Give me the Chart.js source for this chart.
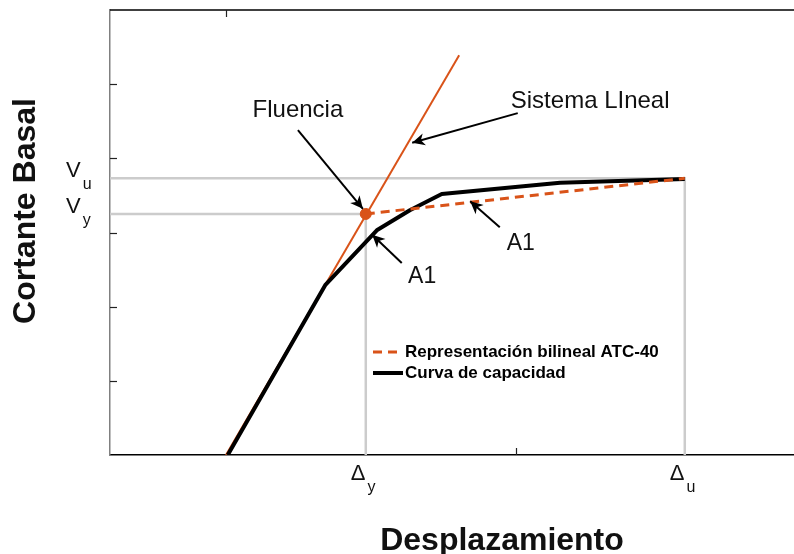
<!DOCTYPE html>
<html>
<head>
<meta charset="utf-8">
<script src="https://cdn.jsdelivr.net/npm/chart.js@4/dist/chart.umd.min.js"></script>
<style>
  html, body { margin: 0; padding: 0; background: #fff; overflow: hidden; }
  #wrap { width: 830px; height: 554px; }
</style>
</head>
<body>
<div id="wrap"><canvas id="pushover" width="830" height="554"></canvas></div>
<script>
// capacity curve (pushover)
const capX = [2.03, 3.71, 4.60, 5.17, 5.72, 7.76, 9.91];
const capY = [0, 2.29, 3.03, 3.30, 3.52, 3.67, 3.72];

// elastic (linear) system
const linX = [2.0, 6.02];
const linY = [0, 5.39];

// yield and ultimate points
const dispYield = 4.41, shearYield = 3.25;
const dispUlt = 9.91, shearUlt = 3.73;

// bilinear ATC-40 idealisation
const biX = [dispYield, dispUlt];
const biY = [shearYield, shearUlt];

// tick marks
const yTicks = [1, 2, 3, 4, 5];
const topTicks = [2];
const bottomTicks = [7];

const xTickLabels = [{ v: dispYield, base: 'Δ', sub: 'y' }, { v: dispUlt, base: 'Δ', sub: 'u' }];
const yTickLabels = [{ v: shearUlt, base: 'V', sub: 'u' }, { v: shearYield, base: 'V', sub: 'y' }];

const legendOrder = ['Representación bilineal ATC-40', 'Curva de capacidad'];

// callouts: text position + arrow tail/tip, all in data units
const callouts = [
  { text: 'Fluencia', tx: 3.24, ty: 4.56, align: 'center', size: 24, from: [3.24, 4.38], to: [4.36, 3.32] },
  { text: 'Sistema LIneal', tx: 6.91, ty: 4.68, align: 'left', size: 24, from: [7.03, 4.61], to: [5.21, 4.21] },
  { text: 'A1', tx: 5.14, ty: 2.32, align: 'left', size: 23, from: [5.03, 2.59], to: [4.52, 2.97] },
  { text: 'A1', tx: 6.84, ty: 2.76, align: 'left', size: 23, from: [6.72, 3.07], to: [6.21, 3.42] }
];

const orange = '#D95319';
const guide = '#cccccc';
const FONT = '"Liberation Sans", Arial, sans-serif';

const pts = (xs, ys) => xs.map((x, i) => ({ x, y: ys[i] }));

function arrowHead(ctx, x0, y0, x1, y1) {
  const a = Math.atan2(y1 - y0, x1 - x0);
  const len = 14, spread = 0.45, notch = 9;
  ctx.beginPath();
  ctx.moveTo(x1, y1);
  ctx.lineTo(x1 - len * Math.cos(a - spread), y1 - len * Math.sin(a - spread));
  ctx.lineTo(x1 - notch * Math.cos(a), y1 - notch * Math.sin(a));
  ctx.lineTo(x1 - len * Math.cos(a + spread), y1 - len * Math.sin(a + spread));
  ctx.closePath();
  ctx.fill();
}

// big symbol with a lowered subscript, e.g. Δ_y
function subLabel(ctx, left, y, base, sub) {
  ctx.textAlign = 'left';
  ctx.font = '22px ' + FONT;
  const bw = ctx.measureText(base).width;
  ctx.fillText(base, left, y);
  ctx.font = '16px ' + FONT;
  ctx.fillText(sub, left + bw + 2, y + 12);
}

const decorations = {
  id: 'decorations',
  afterDraw(chart) {
    const { ctx, chartArea: ca, scales: { x, y } } = chart;
    ctx.save();

    // top frame line
    ctx.strokeStyle = '#000';
    ctx.lineWidth = 1.5;
    ctx.beginPath();
    ctx.moveTo(ca.left, ca.top);
    ctx.lineTo(ca.right, ca.top);
    ctx.stroke();

    // inward tick marks
    ctx.lineWidth = 1.2;
    ctx.strokeStyle = '#222';
    yTicks.forEach(v => {
      const py = Math.round(y.getPixelForValue(v)) + 0.5;
      ctx.beginPath(); ctx.moveTo(ca.left, py); ctx.lineTo(ca.left + 7, py); ctx.stroke();
    });
    topTicks.forEach(v => {
      const px = Math.round(x.getPixelForValue(v)) + 0.5;
      ctx.beginPath(); ctx.moveTo(px, ca.top); ctx.lineTo(px, ca.top + 7); ctx.stroke();
    });
    bottomTicks.forEach(v => {
      const px = Math.round(x.getPixelForValue(v)) + 0.5;
      ctx.beginPath(); ctx.moveTo(px, ca.bottom); ctx.lineTo(px, ca.bottom - 7); ctx.stroke();
    });

    // symbolic tick labels
    ctx.fillStyle = '#111';
    ctx.textBaseline = 'alphabetic';
    xTickLabels.forEach(t => subLabel(ctx, x.getPixelForValue(t.v) - 15, ca.bottom + 25, t.base, t.sub));
    yTickLabels.forEach(t => subLabel(ctx, ca.left - 44, y.getPixelForValue(t.v) - 1, t.base, t.sub));

    // callouts
    ctx.strokeStyle = '#000';
    callouts.forEach(c => {
      ctx.fillStyle = '#111';
      ctx.font = c.size + 'px ' + FONT;
      ctx.textAlign = c.align;
      ctx.fillText(c.text, x.getPixelForValue(c.tx), y.getPixelForValue(c.ty));
      const x0 = x.getPixelForValue(c.from[0]), y0 = y.getPixelForValue(c.from[1]);
      const x1 = x.getPixelForValue(c.to[0]), y1 = y.getPixelForValue(c.to[1]);
      ctx.lineWidth = 2;
      ctx.beginPath(); ctx.moveTo(x0, y0); ctx.lineTo(x1, y1); ctx.stroke();
      ctx.fillStyle = '#000';
      arrowHead(ctx, x0, y0, x1, y1);
    });

    // legend, inside the plot area
    ctx.font = 'bold 17px ' + FONT;
    ctx.textAlign = 'left';
    legendOrder.forEach((name, i) => {
      const d = chart.data.datasets.find(ds => ds.label === name);
      const rowY = 352 + i * 21;
      ctx.strokeStyle = d.borderColor;
      ctx.lineWidth = d.borderWidth;
      ctx.setLineDash(d.borderDash || []);
      ctx.beginPath(); ctx.moveTo(373, rowY); ctx.lineTo(d.borderDash ? 397 : 403, rowY); ctx.stroke();
      ctx.setLineDash([]);
      ctx.fillStyle = '#000';
      ctx.fillText(d.label, 405, rowY + 5);
    });

    // axis titles
    ctx.fillStyle = '#111';
    ctx.font = 'bold 32px ' + FONT;
    ctx.textAlign = 'center';
    ctx.fillText('Desplazamiento', 502, 550);
    ctx.translate(35, 211);
    ctx.rotate(-Math.PI / 2);
    ctx.fillText('Cortante Basal', 0, 0);

    ctx.restore();
  }
};

new Chart(document.getElementById('pushover'), {
  type: 'scatter',
  data: {
    datasets: [
      { label: 'Vu guide', data: pts([0, dispUlt, dispUlt], [shearUlt, shearUlt, 0]), showLine: true,
        borderColor: guide, borderWidth: 2.5, pointRadius: 0, order: 6 },
      { label: 'Vy guide', data: pts([0, dispYield, dispYield], [shearYield, shearYield, 0]), showLine: true,
        borderColor: guide, borderWidth: 2.5, pointRadius: 0, order: 6 },
      { label: 'Sistema Lineal', data: pts(linX, linY), showLine: true,
        borderColor: orange, borderWidth: 2, pointRadius: 0, order: 5 },
      { label: 'Curva de capacidad', data: pts(capX, capY), showLine: true,
        borderColor: '#000', borderWidth: 4, pointRadius: 0, order: 4, borderJoinStyle: 'round' },
      { label: 'Representación bilineal ATC-40', data: pts(biX, biY), showLine: true,
        borderColor: orange, borderWidth: 3, borderDash: [9, 6], pointRadius: 0, order: 3 },
      { label: 'Fluencia', data: pts([dispYield], [shearYield]), pointRadius: 5.5,
        backgroundColor: orange, borderColor: orange, order: 2 }
    ]
  },
  options: {
    responsive: false,
    animation: false,
    events: [],
    layout: { padding: { left: 110, top: 10, right: 24, bottom: 99 } },
    plugins: { legend: { display: false }, tooltip: { enabled: false } },
    scales: {
      x: {
        type: 'linear', min: 0, max: 12,
        grid: { display: false },
        ticks: { display: false },
        border: { display: true, color: '#000', width: 1.5 },
        afterFit: s => { s.height = 0; }
      },
      y: {
        type: 'linear', min: 0, max: 6,
        grid: { display: false },
        ticks: { display: false },
        border: { display: true, color: '#808080', width: 1.5 },
        afterFit: s => { s.width = 0; }
      }
    }
  },
  plugins: [decorations]
});
</script>
</body>
</html>
